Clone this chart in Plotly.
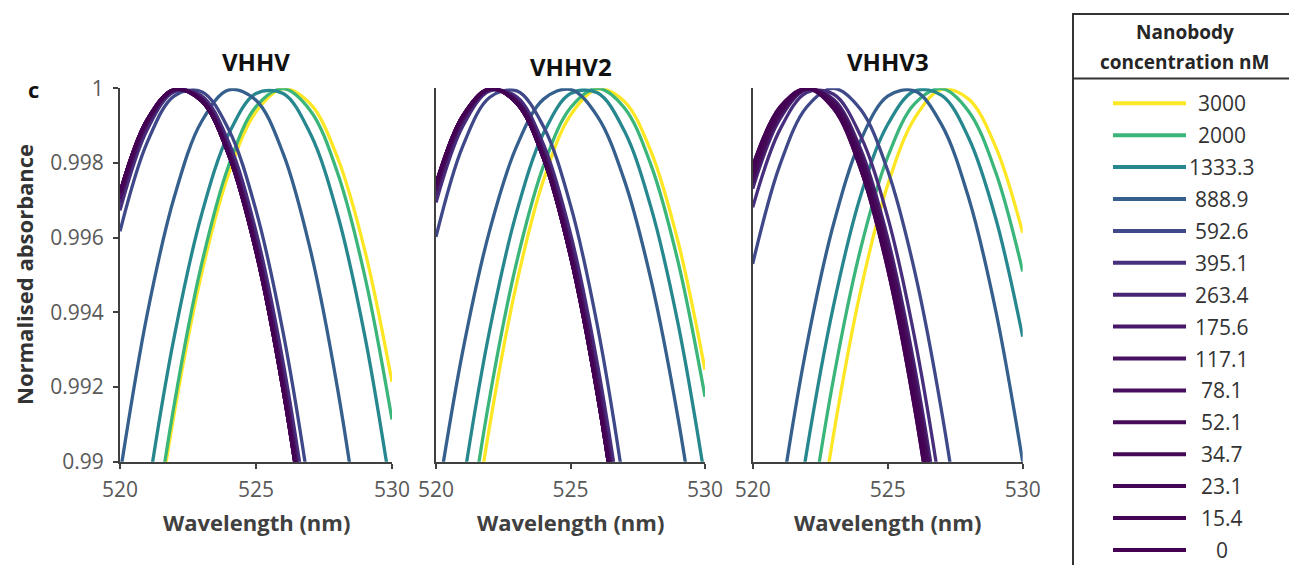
import plotly.graph_objects as go

# ---------------- data ----------------
wavelengths = [520, 521, 522, 523, 524, 525, 526, 527, 528, 529, 530]

concentrations = ["3000", "2000", "1333.3", "888.9", "592.6", "395.1", "263.4",
                  "175.6", "117.1", "78.1", "52.1", "34.7", "23.1", "15.4", "0"]

line_colors = ["#fde725", "#3bb67a", "#26878e", "#355f8d", "#3f4889", "#472f7d", "#482475",
               "#481769", "#47125f", "#460e5c", "#450b59", "#440856", "#440556", "#440354", "#440154"]

panel_titles = ["VHHV", "VHHV2", "VHHV3"]

x_tick_values = [520, 525, 530]
x_tick_labels = ["520", "525", "530"]
y_tick_values = [0.99, 0.992, 0.994, 0.996, 0.998, 1.0]
y_tick_labels = ["0.99", "0.992", "0.994", "0.996", "0.998", "1"]

# normalised absorbance, one row per concentration (same order as `concentrations`)
vhhv = [
    [0.98078, 0.98657, 0.99132, 0.99504, 0.99772, 0.99937, 0.99999, 0.99958, 0.99814, 0.99566, 0.99214],
    [0.98085, 0.98675, 0.99156, 0.99529, 0.99794, 0.99951, 0.99999, 0.99940, 0.99773, 0.99497, 0.99113],
    [0.98364, 0.98905, 0.99337, 0.99662, 0.99878, 0.99986, 0.99986, 0.99878, 0.99662, 0.99337, 0.98905],
    [0.98966, 0.99395, 0.99710, 0.99911, 0.99996, 0.99968, 0.99825, 0.99567, 0.99195, 0.98709, 0.98108],
    [0.99617, 0.99855, 0.99980, 0.99991, 0.99889, 0.99673, 0.99345, 0.98903, 0.98347, 0.97678, 0.96896],
    [0.99673, 0.99889, 0.99991, 0.99980, 0.99855, 0.99617, 0.99265, 0.98800, 0.98222, 0.97531, 0.96726],
    [0.99692, 0.99900, 0.99994, 0.99975, 0.99842, 0.99596, 0.99236, 0.98764, 0.98178, 0.97478, 0.96665],
    [0.99705, 0.99907, 0.99996, 0.99971, 0.99832, 0.99581, 0.99216, 0.98737, 0.98145, 0.97440, 0.96621],
    [0.99705, 0.99907, 0.99996, 0.99971, 0.99832, 0.99581, 0.99216, 0.98737, 0.98145, 0.97440, 0.96621],
    [0.99705, 0.99907, 0.99996, 0.99971, 0.99832, 0.99581, 0.99216, 0.98737, 0.98145, 0.97440, 0.96621],
    [0.99721, 0.99916, 0.99997, 0.99966, 0.99820, 0.99562, 0.99190, 0.98705, 0.98106, 0.97394, 0.96569],
    [0.99721, 0.99916, 0.99997, 0.99966, 0.99820, 0.99562, 0.99190, 0.98705, 0.98106, 0.97394, 0.96569],
    [0.99721, 0.99916, 0.99997, 0.99966, 0.99820, 0.99562, 0.99190, 0.98705, 0.98106, 0.97394, 0.96569],
    [0.99721, 0.99916, 0.99997, 0.99966, 0.99820, 0.99562, 0.99190, 0.98705, 0.98106, 0.97394, 0.96569],
    [0.99721, 0.99916, 0.99997, 0.99966, 0.99820, 0.99562, 0.99190, 0.98705, 0.98106, 0.97394, 0.96569],
]

vhhv2 = [
    [0.98027, 0.98614, 0.99098, 0.99478, 0.99755, 0.99928, 0.99998, 0.99965, 0.99829, 0.99589, 0.99246],
    [0.98140, 0.98709, 0.99174, 0.99535, 0.99793, 0.99948, 1.00000, 0.99948, 0.99793, 0.99535, 0.99174],
    [0.98412, 0.98935, 0.99354, 0.99669, 0.99880, 0.99986, 0.99988, 0.99886, 0.99679, 0.99369, 0.98954],
    [0.98876, 0.99298, 0.99621, 0.99845, 0.99971, 0.99997, 0.99925, 0.99754, 0.99485, 0.99116, 0.98649],
    [0.99602, 0.99846, 0.99976, 0.99993, 0.99897, 0.99687, 0.99364, 0.98927, 0.98377, 0.97714, 0.96938],
    [0.99694, 0.99899, 0.99993, 0.99977, 0.99849, 0.99611, 0.99262, 0.98803, 0.98233, 0.97552, 0.96760],
    [0.99712, 0.99909, 0.99996, 0.99971, 0.99836, 0.99590, 0.99234, 0.98767, 0.98189, 0.97500, 0.96700],
    [0.99727, 0.99918, 0.99997, 0.99966, 0.99825, 0.99572, 0.99209, 0.98735, 0.98150, 0.97455, 0.96649],
    [0.99727, 0.99918, 0.99997, 0.99966, 0.99825, 0.99572, 0.99209, 0.98735, 0.98150, 0.97455, 0.96649],
    [0.99727, 0.99918, 0.99997, 0.99966, 0.99825, 0.99572, 0.99209, 0.98735, 0.98150, 0.97455, 0.96649],
    [0.99744, 0.99927, 0.99999, 0.99960, 0.99811, 0.99550, 0.99179, 0.98698, 0.98105, 0.97402, 0.96588],
    [0.99744, 0.99927, 0.99999, 0.99960, 0.99811, 0.99550, 0.99179, 0.98698, 0.98105, 0.97402, 0.96588],
    [0.99744, 0.99927, 0.99999, 0.99960, 0.99811, 0.99550, 0.99179, 0.98698, 0.98105, 0.97402, 0.96588],
    [0.99744, 0.99927, 0.99999, 0.99960, 0.99811, 0.99550, 0.99179, 0.98698, 0.98105, 0.97402, 0.96588],
    [0.99744, 0.99927, 0.99999, 0.99960, 0.99811, 0.99550, 0.99179, 0.98698, 0.98105, 0.97402, 0.96588],
]

vhhv3 = [
    [0.97309, 0.98001, 0.98589, 0.99075, 0.99459, 0.99741, 0.99920, 0.99997, 0.99971, 0.99843, 0.99613],
    [0.97574, 0.98226, 0.98777, 0.99225, 0.99571, 0.99816, 0.99959, 0.99999, 0.99938, 0.99775, 0.99510],
    [0.97935, 0.98532, 0.99027, 0.99420, 0.99713, 0.99903, 0.99993, 0.99981, 0.99867, 0.99652, 0.99335],
    [0.98340, 0.98877, 0.99310, 0.99638, 0.99861, 0.99979, 0.99993, 0.99902, 0.99706, 0.99405, 0.99000],
    [0.99530, 0.99793, 0.99950, 1.00000, 0.99943, 0.99780, 0.99510, 0.99134, 0.98651, 0.98061, 0.97364],
    [0.99681, 0.99888, 0.99989, 0.99984, 0.99872, 0.99655, 0.99331, 0.98901, 0.98365, 0.97722, 0.96974],
    [0.99731, 0.99917, 0.99997, 0.99970, 0.99837, 0.99599, 0.99253, 0.98802, 0.98245, 0.97581, 0.96811],
    [0.99748, 0.99926, 0.99998, 0.99964, 0.99824, 0.99578, 0.99225, 0.98767, 0.98202, 0.97531, 0.96753],
    [0.99748, 0.99926, 0.99998, 0.99964, 0.99824, 0.99578, 0.99225, 0.98767, 0.98202, 0.97531, 0.96753],
    [0.99761, 0.99933, 0.99999, 0.99959, 0.99812, 0.99560, 0.99201, 0.98736, 0.98164, 0.97487, 0.96703],
    [0.99761, 0.99933, 0.99999, 0.99959, 0.99812, 0.99560, 0.99201, 0.98736, 0.98164, 0.97487, 0.96703],
    [0.99777, 0.99941, 1.00000, 0.99952, 0.99798, 0.99538, 0.99172, 0.98699, 0.98120, 0.97436, 0.96645],
    [0.99777, 0.99941, 1.00000, 0.99952, 0.99798, 0.99538, 0.99172, 0.98699, 0.98120, 0.97436, 0.96645],
    [0.99792, 0.99949, 1.00000, 0.99945, 0.99783, 0.99516, 0.99142, 0.98662, 0.98076, 0.97384, 0.96585],
    [0.99792, 0.99949, 1.00000, 0.99945, 0.99783, 0.99516, 0.99142, 0.98662, 0.98076, 0.97384, 0.96585],
]

# ---------------- layout helpers ----------------
W, H = 1289, 565
FONT = "Open Sans"
AXIS_COLOR = "#404040"


def px(x):
    return x / W


def py(y):
    return 1 - y / H


panel_data = [vhhv, vhhv2, vhhv3]
panel_left = [120, 436, 752.7]
panel_right = [392, 705, 1022.7]
plot_top, plot_bottom = 88.3, 461.7

fig = go.Figure()

for i, data in enumerate(panel_data):
    xa = "x" if i == 0 else f"x{i + 1}"
    ya = "y" if i == 0 else f"y{i + 1}"
    for conc, color, ys in zip(concentrations, line_colors, data):
        fig.add_trace(go.Scatter(
            x=wavelengths, y=ys, mode="lines", name=conc,
            line=dict(color=color, width=3.3, shape="spline", smoothing=1),
            xaxis=xa, yaxis=ya, showlegend=False,
            hovertemplate=panel_titles[i] + " " + conc + " nM<br>%{x} nm: %{y}<extra></extra>",
        ))

    xkey = "xaxis" if i == 0 else f"xaxis{i + 1}"
    ykey = "yaxis" if i == 0 else f"yaxis{i + 1}"
    fig.layout[xkey] = dict(
        domain=[px(panel_left[i]), px(panel_right[i])], range=[520, 530], anchor=ya,
        showline=True, linecolor=AXIS_COLOR, linewidth=2, mirror=False, automargin=False,
        ticks="outside", ticklen=5, tickwidth=2, tickcolor=AXIS_COLOR, ticklabelstandoff=3,
        tickvals=x_tick_values, ticktext=x_tick_labels,
        tickfont=dict(family=FONT, size=21, color="#595959"),
        showgrid=False, zeroline=False,
    )
    fig.layout[ykey] = dict(
        domain=[py(plot_bottom), py(plot_top)], range=[0.99, 1.0], anchor=xa,
        showline=True, linecolor=AXIS_COLOR, linewidth=2, automargin=False,
        ticks="outside" if i == 0 else "", ticklen=5, tickwidth=2, tickcolor=AXIS_COLOR,
        ticklabelstandoff=5,
        tickvals=y_tick_values, ticktext=y_tick_labels, showticklabels=(i == 0),
        tickfont=dict(family=FONT, size=21, color="#595959"),
        showgrid=False, zeroline=False,
    )

annotations = []
shapes = []

# panel titles and x-axis titles
title_y = [62, 66, 62]
for i, t in enumerate(panel_titles):
    cx = (panel_left[i] + panel_right[i]) / 2
    annotations.append(dict(text=f"<b>{t}</b>", x=px(cx), y=py(title_y[i]), xref="paper", yref="paper",
                            xanchor="center", yanchor="middle", showarrow=False,
                            font=dict(family=FONT, size=24, color="#111111")))
    annotations.append(dict(text="<b>Wavelength (nm)</b>", x=px(cx), y=py(522), xref="paper", yref="paper",
                            xanchor="center", yanchor="middle", showarrow=False,
                            font=dict(family=FONT, size=22, color="#404040")))

annotations.append(dict(text="<b>Normalised absorbance</b>", x=px(24), y=py(275), xref="paper", yref="paper",
                        xanchor="center", yanchor="middle", showarrow=False, textangle=-90,
                        font=dict(family=FONT, size=22, color="#333333")))
annotations.append(dict(text="<b>c</b>", x=px(33), y=py(89), xref="paper", yref="paper",
                        xanchor="center", yanchor="middle", showarrow=False,
                        font=dict(family=FONT, size=22, color="#111111")))

# legend box (drawn manually to match the boxed table-like legend)
box_left, box_top, sep_y = 1073, 14, 78.5
shapes.append(dict(type="rect", xref="paper", yref="paper", x0=px(box_left), x1=px(1300),
                   y0=py(580), y1=py(box_top), line=dict(color="#333333", width=2)))
shapes.append(dict(type="line", xref="paper", yref="paper", x0=px(box_left), x1=px(1300),
                   y0=py(sep_y), y1=py(sep_y), line=dict(color="#333333", width=2)))
annotations.append(dict(text="<b>Nanobody</b>", x=px(1185), y=py(32), xref="paper", yref="paper",
                        xanchor="center", yanchor="middle", showarrow=False,
                        font=dict(family=FONT, size=19, color="#262626")))
annotations.append(dict(text="<b>concentration nM</b>", x=px(1185), y=py(62), xref="paper", yref="paper",
                        xanchor="center", yanchor="middle", showarrow=False,
                        font=dict(family=FONT, size=19, color="#262626")))

row0, row_step = 103.3, 31.9
for j, (conc, color) in enumerate(zip(concentrations, line_colors)):
    yy = row0 + j * row_step
    shapes.append(dict(type="line", xref="paper", yref="paper", x0=px(1113), x1=px(1186),
                       y0=py(yy), y1=py(yy), line=dict(color=color, width=4)))
    annotations.append(dict(text=conc, x=px(1222), y=py(yy), xref="paper", yref="paper",
                            xanchor="center", yanchor="middle", showarrow=False,
                            font=dict(family=FONT, size=21, color="#333333")))

fig.update_layout(
    width=W, height=H,
    margin=dict(l=0, r=0, t=0, b=0, pad=0, autoexpand=False),
    paper_bgcolor="white", plot_bgcolor="white",
    showlegend=False,
    annotations=annotations, shapes=shapes,
    font=dict(family=FONT),
)

fig.write_html("out.html")
